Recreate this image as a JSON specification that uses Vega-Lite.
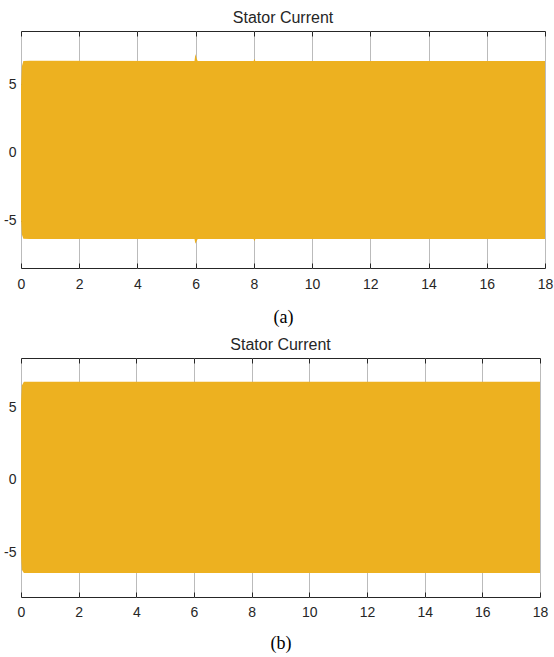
{
  "$schema": "https://vega.github.io/schema/vega-lite/v6.json",
  "background": "white",
  "padding": {"left": 3, "top": 9, "right": 5, "bottom": 4},
  "spacing": 9,
  "config": {
    "view": {"stroke": "#262626", "strokeWidth": 1},
    "font": "Liberation Sans",
    "title": {"font": "Liberation Sans", "fontSize": 16, "fontWeight": "normal", "color": "#262626", "offset": 5},
    "axis": {
      "domain": false,
      "labelFont": "Liberation Sans",
      "labelFontSize": 14,
      "labelColor": "#262626",
      "labelExpr": "toString(datum.value)",
      "tickColor": "#262626",
      "tickSize": -5,
      "labelFlush": false,
      "labelOverlap": false,
      "gridColor": "#bbbbbb",
      "gridOpacity": 1,
      "titleFont": "Liberation Serif",
      "titleFontSize": 18,
      "titleFontWeight": "normal",
      "titleColor": "#000000"
    }
  },
  "vconcat": [
    {
      "title": "Stator Current",
      "width": 524,
      "height": 237,
      "data": {"values": [
        {"t": 0, "hi": 4.8, "lo": -4.8},
        {"t": 0.03, "hi": 6.3, "lo": -6.0},
        {"t": 0.08, "hi": 6.7, "lo": -6.3},
        {"t": 0.3, "hi": 6.72, "lo": -6.32},
        {"t": 5.96, "hi": 6.71, "lo": -6.32},
        {"t": 5.99, "hi": 7.22, "lo": -6.68},
        {"t": 6.03, "hi": 6.9, "lo": -6.5},
        {"t": 6.07, "hi": 6.71, "lo": -6.32},
        {"t": 7.99, "hi": 6.71, "lo": -6.32},
        {"t": 8.02, "hi": 6.86, "lo": -6.5},
        {"t": 8.05, "hi": 6.71, "lo": -6.32},
        {"t": 18, "hi": 6.71, "lo": -6.32}
      ]},
      "layer": [
        {
          "mark": {"type": "area", "color": "#EDB120", "interpolate": "linear"},
          "encoding": {
            "x": {"field": "t", "type": "quantitative", "scale": {"domain": [0, 18], "nice": false},
                  "axis": {"orient": "bottom", "values": [0,2,4,6,8,10,12,14,16,18], "grid": true, "labelPadding": 14, "title": "(a)", "titlePadding": 17}},
            "y": {"field": "hi", "type": "quantitative", "scale": {"domain": [-8.45, 8.9], "nice": false, "zero": false},
                  "axis": {"values": [-5, 0, 5], "grid": false, "labelPadding": 10, "title": null}},
            "y2": {"field": "lo"}
          }
        },
        {
          "mark": {"type": "point", "opacity": 0},
          "encoding": {
            "x": {"field": "t", "type": "quantitative",
                  "axis": {"orient": "top", "values": [0,2,4,6,8,10,12,14,16,18], "labels": false, "grid": false, "title": null}}
          }
        }
      ]
    },
    {
      "title": "Stator Current",
      "width": 519,
      "height": 239,
      "data": {"values": [
        {"t": 0, "hi": 5.3, "lo": -5.2},
        {"t": 0.03, "hi": 6.5, "lo": -6.2},
        {"t": 0.1, "hi": 6.77, "lo": -6.42},
        {"t": 18, "hi": 6.77, "lo": -6.42}
      ]},
      "layer": [
        {
          "mark": {"type": "area", "color": "#EDB120", "interpolate": "linear"},
          "encoding": {
            "x": {"field": "t", "type": "quantitative", "scale": {"domain": [0, 18], "nice": false},
                  "axis": {"orient": "bottom", "values": [0,2,4,6,8,10,12,14,16,18], "grid": true, "labelPadding": 13, "title": "(b)", "titlePadding": 15}},
            "y": {"field": "hi", "type": "quantitative", "scale": {"domain": [-8.07, 8.4], "nice": false, "zero": false},
                  "axis": {"values": [-5, 0, 5], "grid": false, "labelPadding": 10, "title": null}},
            "y2": {"field": "lo"}
          }
        },
        {
          "mark": {"type": "point", "opacity": 0},
          "encoding": {
            "x": {"field": "t", "type": "quantitative",
                  "axis": {"orient": "top", "values": [0,2,4,6,8,10,12,14,16,18], "labels": false, "grid": false, "title": null}}
          }
        }
      ]
    }
  ]
}
